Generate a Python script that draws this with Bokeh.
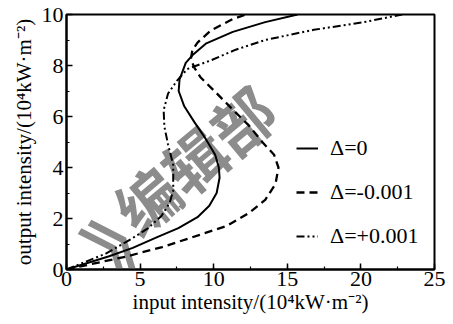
from bokeh.plotting import figure
from bokeh.models import Range1d, SingleIntervalTicker, Legend, LegendItem, Label
from bokeh.embed import file_html
from bokeh.resources import INLINE

# Delta = 0 (solid)
solid_x = [0, 2.9, 4.5, 6.2, 7.6, 8.9, 9.7, 10.2, 10.4, 10.35, 10.1, 9.45, 8.7, 8.0, 7.62, 7.68, 8.1, 8.55, 9.5, 11.3, 13.5, 15.7]
solid_y = [0, 0.52, 0.85, 1.28, 1.62, 2.05, 2.5, 3.0, 3.6, 4.0, 4.5, 5.13, 5.77, 6.4, 7.0, 7.45, 8.1, 8.4, 8.87, 9.32, 9.7, 10.0]

# Delta = -0.001 (dashed)
dash_x = [0, 4.0, 6.5, 9.0, 10.9, 12.4, 13.5, 14.2, 14.4, 14.1, 13.3, 12.4, 11.3, 10.2, 9.1, 8.7, 8.45, 8.55, 8.9, 9.8, 11.3, 12.2]
dash_y = [0, 0.5, 0.88, 1.35, 1.71, 2.22, 2.73, 3.36, 4.0, 4.5, 5.0, 5.64, 6.27, 6.91, 7.54, 7.9, 8.25, 8.6, 8.9, 9.37, 9.82, 10.0]

# Delta = +0.001 (dash-dot-dot)
dd_x = [0, 2.7, 4.4, 5.5, 6.45, 7.0, 7.25, 7.25, 6.9, 6.65, 6.6, 6.9, 7.5, 8.2, 9.8, 11.5, 13.5, 16.8, 20.2, 22.8]
dd_y = [0, 0.63, 1.2, 1.6, 2.1, 2.6, 3.1, 4.1, 4.9, 5.6, 6.25, 6.9, 7.4, 7.86, 8.2, 8.62, 9.0, 9.4, 9.7, 10.0]

labels = ["Δ=0", "Δ=-0.001", "Δ=+0.001"]
x_title = "input intensity/(10⁴kW·m⁻²)"
y_title = "output intensity/(10⁴kW·m⁻²)"

FONT = "Liberation Serif"

p = figure(width=445, height=316, output_backend="svg", toolbar_location=None,
           x_range=Range1d(0, 25), y_range=Range1d(0, 10),
           min_border_left=66, min_border_right=11, min_border_top=14, min_border_bottom=44)
p.xgrid.visible = False
p.ygrid.visible = False
p.outline_line_color = "black"
p.outline_line_width = 2
p.outline_line_alpha = 1
p.background_fill_color = "white"
p.border_fill_color = "white"

p.xaxis.ticker = SingleIntervalTicker(interval=5, num_minor_ticks=2)
p.yaxis.ticker = SingleIntervalTicker(interval=2, num_minor_ticks=2)
for ax in (p.xaxis, p.yaxis):
    ax.axis_line_width = 2
    ax.axis_line_color = "black"
    ax.major_tick_in = 6
    ax.major_tick_out = 0
    ax.minor_tick_in = 3
    ax.minor_tick_out = 0
    ax.major_tick_line_width = 1.5
    ax.minor_tick_line_width = 1.2
    ax.major_tick_line_color = "black"
    ax.minor_tick_line_color = "black"
    ax.major_label_text_font = FONT
    ax.major_label_text_font_size = "22px"
    ax.major_label_text_color = "black"
    ax.axis_label_text_font = FONT
    ax.axis_label_text_font_size = "21px"
    ax.axis_label_text_font_style = "normal"
    ax.axis_label_text_color = "black"
p.xaxis.axis_label = x_title
p.yaxis.axis_label = y_title
p.xaxis.major_label_standoff = 2
p.xaxis.axis_label_standoff = 1
p.yaxis.major_label_standoff = 3
p.yaxis.axis_label_standoff = 3

# watermark (gray, under the curves)
wm = dict(angle=40, angle_units="deg", text_align="center", text_baseline="middle",
          text_font="Noto Sans CJK SC", text_font_style="bold", text_color="#8c8c8c",
          level="underlay")
p.add_layout(Label(x=8.63, y=4.34, text="编辑部", text_font_size="62px", **wm))
p.add_layout(Label(x=58, y=36, x_units="screen", y_units="screen", text="》",
                   text_font_size="76px", **wm))

r1 = p.line(solid_x, solid_y, line_color="black", line_width=2)
r2 = p.line(dash_x, dash_y, line_color="black", line_width=2.3, line_dash="8 5")
r3 = p.line(dd_x, dd_y, line_color="black", line_width=2, line_dash="8 3 2 3 2 3")

legend = Legend(items=[LegendItem(label=labels[0], renderers=[r1]),
                       LegendItem(label=labels[1], renderers=[r2]),
                       LegendItem(label=labels[2], renderers=[r3])],
                location=(230, 20), padding=0, margin=0, spacing=18,
                glyph_width=22, glyph_height=24, label_height=24, label_standoff=12,
                border_line_alpha=0, background_fill_alpha=0,
                label_text_font=FONT, label_text_font_size="22px", label_text_color="black")
p.add_layout(legend)

open("out.html", "w").write(file_html(p, INLINE))
